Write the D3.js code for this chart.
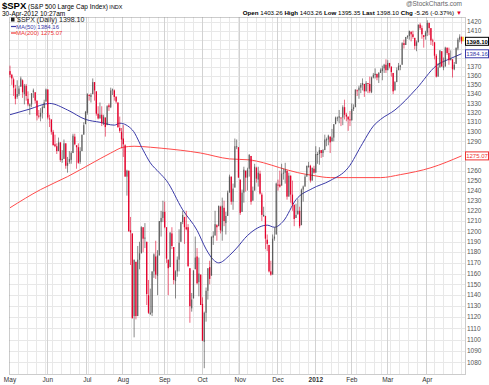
<!DOCTYPE html>
<html>
<head>
<meta charset="utf-8">
<script src="https://cdn.jsdelivr.net/npm/d3@7"></script>
<style>
  body { margin: 0; background: #fff; }
  text { font-family: "Liberation Sans", Arial, sans-serif; }
</style>
</head>
<body>
<div id="chart"></div>
<script>
// $SPX daily, 2-May-2011 .. 30-Apr-2012
const startDay = "2011-05-02", endDay = "2012-04-30";
const holidays = ["2011-05-30", "2011-07-04", "2011-09-05", "2011-11-24", "2011-12-26",
  "2012-01-02", "2012-01-16", "2012-02-20", "2012-04-06"];

const opens = [
  1365,1361,1356,1346,1337,1340,1348,1355,1340,1349,1335,1327,1329,1342,1342,1333,1317,1316,1320,1325,1332,
  1345,1314,1313,1300,1287,1285,1280,1289,1272,1272,1288,1265,1269,1271,1278,1295,1286,1284,1269,1280,1297,1308,
  1320,1339,1337,1340,1353,1343,1319,1314,1318,1309,1315,1307,1328,1326,1344,1344,1337,1331,1304,1300,
  1293,1286,1254,1260,1201,1198,1121,1171,1121,1173,1179,1204,1193,1190,1140,1124,1124,1162,1176,1158,1177,1209,1213,
  1219,1204,1173,1166,1198,1185,1153,1162,1173,1190,1209,1214,1204,1204,1165,1128,1137,1164,1176,1152,1159,
  1132,1098,1124,1144,1166,1158,1194,1196,1206,1205,1224,1200,1223,1208,1215,1238,1254,1229,1243,1284,1284,
  1251,1219,1238,1260,1253,1262,1275,1230,1240,1263,1251,1257,1236,1216,1215,1192,1187,1162,1159,1193,1197,
  1246,1246,1245,1257,1258,1260,1234,1255,1236,1226,1213,1217,1220,1206,1241,1244,1254,1265,1265,1250,1262,
  1258,1277,1277,1281,1278,1281,1292,1292,1295,1290,1294,1308,1314,1316,1315,1315,1326,1318,1316,1313,
  1312,1324,1326,1344,1344,1347,1350,1351,1343,1352,1351,1342,1358,1362,1362,1358,1363,1365,1368,1372,
  1366,1374,1370,1363,1344,1353,1366,1371,1372,1396,1394,1403,1404,1409,1406,1402,1393,1397,1417,1413,1405,1404,
  1408,1419,1413,1399,1397,1382,1359,1369,1387,1370,1370,1391,1385,1377,1378,1367,1373,1390,1400,1403.26
];
const highs = [
  1371,1362,1358,1350,1355,1349,1359,1356,1351,1351,1343,1330,1341,1346,1342,1333,1323,1325,1328,1334,1346,
  1345,1318,1313,1302,1297,1288,1294,1289,1281,1292,1288,1274,1280,1280,1298,1298,1286,1288,1284,1297,1310,1322,
  1341,1340,1341,1357,1353,1343,1327,1331,1327,1318,1315,1328,1330,1347,1346,1345,1338,1331,1316,1304,
  1307,1287,1261,1260,1214,1198,1173,1171,1186,1190,1205,1204,1208,1190,1154,1146,1162,1179,1191,1182,1210,1220,1230,
  1229,1204,1173,1199,1204,1185,1163,1176,1202,1209,1220,1214,1220,1207,1165,1142,1163,1195,1184,1175,1159,
  1138,1125,1147,1165,1172,1195,1200,1220,1207,1225,1225,1233,1230,1219,1240,1256,1254,1247,1293,1292,1284,
  1251,1241,1264,1260,1263,1277,1275,1244,1267,1264,1264,1260,1238,1224,1215,1197,1187,1172,1197,1204,1248,
  1251,1260,1267,1262,1268,1260,1258,1255,1250,1226,1227,1232,1224,1242,1245,1256,1265,1269,1266,1263,1265,
  1285,1279,1284,1281,1282,1297,1294,1297,1295,1303,1308,1316,1316,1323,1315,1328,1334,1320,1316,1322,
  1330,1329,1345,1345,1349,1352,1357,1351,1354,1352,1359,1359,1363,1368,1362,1364,1368,1371,1373,1378,
  1377,1374,1370,1363,1354,1369,1374,1372,1397,1400,1403,1405,1410,1409,1410,1402,1399,1417,1419,1416,1405,1410,
  1422,1419,1413,1401,1397,1384,1374,1388,1387,1380,1392,1391,1391,1388,1378,1375,1391,1402,1406,1403.26
];
const lows = [
  1358,1350,1338,1329,1335,1338,1348,1336,1329,1333,1327,1318,1326,1336,1330,1312,1314,1311,1314,1325,1332,
  1313,1305,1297,1286,1284,1277,1280,1269,1268,1272,1262,1258,1267,1267,1278,1286,1262,1267,1267,1280,1297,1308,
  1318,1333,1331,1340,1333,1317,1313,1314,1306,1307,1295,1307,1322,1325,1339,1333,1330,1304,1299,1283,
  1274,1254,1235,1200,1168,1119,1102,1118,1121,1164,1179,1180,1184,1131,1123,1122,1121,1156,1155,1140,1177,1195,1209,
  1203,1170,1140,1166,1183,1150,1137,1157,1162,1190,1207,1188,1201,1166,1115,1125,1137,1164,1150,1139,1131,
  1099,1075,1116,1136,1150,1158,1187,1196,1191,1205,1198,1191,1205,1197,1215,1238,1226,1221,1243,1282,1253,
  1216,1219,1228,1239,1240,1254,1226,1230,1240,1248,1244,1236,1210,1214,1183,1181,1161,1158,1159,1191,1197,
  1240,1243,1245,1251,1247,1231,1234,1228,1220,1205,1213,1216,1203,1206,1229,1244,1254,1263,1248,1250,1257,
  1258,1267,1266,1273,1274,1281,1285,1286,1278,1290,1290,1308,1311,1309,1306,1307,1313,1311,1301,1306,
  1312,1322,1326,1338,1335,1341,1344,1337,1343,1341,1341,1341,1357,1357,1355,1352,1363,1355,1363,1363,
  1366,1368,1359,1340,1344,1353,1366,1366,1372,1390,1394,1401,1400,1398,1401,1389,1387,1397,1411,1401,1391,1400,
  1404,1405,1394,1393,1378,1358,1359,1369,1370,1366,1370,1383,1372,1377,1358,1366,1373,1388,1397,1395.35
];
const closes = [
  1361,1357,1347,1335,1340,1346,1357,1342,1349,1338,1329,1329,1341,1344,1333,1317,1316,1320,1326,1331,1345,
  1315,1313,1300,1286,1285,1280,1289,1271,1272,1288,1265,1268,1272,1278,1296,1287,1284,1268,1280,1297,1307,1321,
  1340,1338,1339,1353,1344,1319,1314,1318,1309,1316,1305,1327,1326,1344,1345,1337,1332,1305,1301,1292,
  1287,1254,1260,1200,1199,1119,1173,1121,1173,1179,1204,1193,1194,1141,1124,1124,1162,1178,1159,1177,1210,1213,1219,
  1204,1174,1165,1199,1186,1154,1162,1173,1189,1209,1216,1204,1202,1167,1130,1136,1163,1175,1151,1160,1131,
  1099,1124,1144,1165,1155,1195,1196,1207,1204,1225,1201,1225,1210,1215,1238,1254,1229,1242,1285,1285,1253,
  1218,1238,1261,1253,1261,1276,1229,1240,1264,1252,1258,1237,1216,1216,1193,1188,1162,1159,1193,1195,1247,
  1245,1244,1257,1258,1261,1234,1255,1236,1226,1212,1216,1220,1205,1241,1244,1254,1265,1265,1250,1263,1258,
  1277,1277,1281,1278,1281,1292,1292,1296,1289,1294,1308,1315,1315,1316,1315,1326,1318,1316,1313,1312,
  1324,1326,1345,1344,1347,1350,1352,1343,1352,1351,1343,1358,1361,1362,1358,1363,1366,1368,1372,1366,
  1374,1370,1364,1343,1353,1366,1371,1371,1396,1394,1403,1404,1410,1406,1403,1393,1397,1417,1413,1406,1403,1408,
  1419,1413,1399,1398,1382,1359,1369,1388,1370,1370,1391,1385,1377,1379,1367,1372,1391,1400,1403.36,1398.10
];

// moving averages, sampled off the chart (trading-day index, value)
const ma50Days = [0,11,22,32,42,50,58,61,68,74,78,83,87,96,104,109,113,116,122,126,132,134,143,147,152,159,168,178,188,196,202,206,214,226,237,245,251];
const ma50Vals = [1318,1324,1330,1323,1313,1310,1307,1309,1302,1281,1268,1258,1250,1221,1201,1183,1173,1170,1177,1184,1196,1199,1206,1204,1210,1231,1242,1250,1263,1288,1306,1313,1323,1346,1371,1379,1384.16];
const ma200Days = [0,17,32,45,56,63,69,78,84,106,122,133,141,150,160,169,178,188,206,217,234,251];
const ma200Vals = [1223,1241,1254,1267,1278,1284,1285,1284,1283,1278,1272,1271,1268,1263,1258,1255,1253,1253,1253,1256,1263,1275.07];

const yTicks = d3.range(1080, 1421, 10);

// ---- trading days
const parse = d3.utcParse("%Y-%m-%d"), fmt = d3.utcFormat("%Y-%m-%d");
const days = d3.utcDay.range(parse(startDay), d3.utcDay.offset(parse(endDay), 1))
  .filter(d => d.getUTCDay() % 6 !== 0 && !holidays.includes(fmt(d)));
if (days.length !== closes.length || opens.length !== closes.length ||
    highs.length !== closes.length || lows.length !== closes.length)
  throw new Error("length mismatch " + [days.length, opens.length, highs.length, lows.length, closes.length]);

const width = 489, height = 385;
const plot = { left: 9, right: 465, top: 17, bottom: 374 };

const x = d3.scaleLinear().domain([0, days.length - 1]).range([10, 461.5]);
const y = d3.scaleLog().domain([1070, 1425.7]).range([plot.bottom, plot.top]);

const svg = d3.select("#chart").append("svg")
  .attr("width", width)
  .attr("height", height);

// grid
const grid = svg.append("g");
const monthStarts = days.map((d, i) => i).filter(i => i === 0 || days[i].getUTCMonth() !== days[i - 1].getUTCMonth());
const weekStarts = days.map((d, i) => i).filter(i => i > 0 && days[i].getUTCDay() < days[i - 1].getUTCDay());

grid.selectAll("line.h").data(yTicks).enter().append("line")
  .attr("x1", plot.left).attr("x2", plot.right)
  .attr("y1", d => Math.round(y(d)) + 0.5).attr("y2", d => Math.round(y(d)) + 0.5)
  .attr("stroke", "#e8e8e8").attr("stroke-width", 1);
grid.selectAll("line.w").data(weekStarts).enter().append("line")
  .attr("x1", d => Math.round(x(d) - 0.9) + 0.5).attr("x2", d => Math.round(x(d) - 0.9) + 0.5)
  .attr("y1", plot.top).attr("y2", plot.bottom)
  .attr("stroke", "#e8e8e8").attr("stroke-width", 1);
grid.selectAll("line.m").data(monthStarts.slice(1)).enter().append("line")
  .attr("x1", d => Math.round(x(d) - 0.9) + 0.5).attr("x2", d => Math.round(x(d) - 0.9) + 0.5)
  .attr("y1", plot.top).attr("y2", plot.bottom)
  .attr("stroke", "#d2d2d2").attr("stroke-width", 1);

// plot frame (dotted)
svg.append("rect")
  .attr("x", plot.left + 0.5).attr("y", plot.top + 0.5)
  .attr("width", plot.right - plot.left).attr("height", plot.bottom - plot.top)
  .attr("fill", "none").attr("stroke", "#999").attr("stroke-dasharray", "1,1");

// moving averages
const line = d3.line().x(d => x(d[0])).y(d => y(d[1])).curve(d3.curveMonotoneX);
svg.append("path")
  .attr("d", line(ma200Days.map((d, i) => [d, ma200Vals[i]])))
  .attr("fill", "none").attr("stroke", "#ff4a4a").attr("stroke-width", 1);
svg.append("path")
  .attr("d", line(ma50Days.map((d, i) => [d, ma50Vals[i]])))
  .attr("fill", "none").attr("stroke", "#3a3aa8").attr("stroke-width", 1);

// candles
const candles = svg.append("g").selectAll("g").data(closes).enter().append("g");
const col = (c, i) => (c >= (i ? closes[i - 1] : opens[i])) ? "#3c3c3c" : "#e3002b";
candles.append("line")
  .attr("x1", (c, i) => x(i)).attr("x2", (c, i) => x(i))
  .attr("y1", (c, i) => y(highs[i])).attr("y2", (c, i) => y(lows[i]))
  .attr("stroke", col).attr("stroke-width", 0.8).attr("opacity", 0.75);
candles.append("rect")
  .attr("x", (c, i) => x(i) - 0.65).attr("width", 1.3)
  .attr("y", (c, i) => y(Math.max(opens[i], c)))
  .attr("height", (c, i) => Math.max(0.8, Math.abs(y(opens[i]) - y(c))))
  .attr("fill", col)
  .attr("fill-opacity", (c, i) => c > opens[i] ? 0.6 : 1);

// value tags
const tags = [
  { v: closes[closes.length - 1], c: "#000", w: "bold" },
  { v: ma50Vals[ma50Vals.length - 1], c: "#3a3aa8", w: "normal" },
  { v: ma200Vals[ma200Vals.length - 1], c: "#e33", w: "normal" }
];

// right axis labels (those under a value tag are hidden, as in the original)
svg.append("g").selectAll("text")
  .data(yTicks.filter(t => tags.every(g => Math.abs(y(t) - y(g.v)) > 5.5)))
  .enter().append("text")
  .attr("x", 467).attr("y", d => y(d) + 2.2)
  .attr("font-size", 6.5).attr("fill", "#555")
  .text(d => d);

const tagG = svg.append("g").selectAll("g").data(tags).enter().append("g")
  .attr("transform", d => `translate(465,${y(d.v)})`);
tagG.append("rect").attr("x", 0.5).attr("y", -4).attr("width", 23).attr("height", 8)
  .attr("fill", "#fff").attr("stroke", d => d.c).attr("stroke-width", 1);
tagG.append("text").attr("x", 12).attr("y", 2.2).attr("text-anchor", "middle")
  .attr("font-size", 6).attr("font-weight", d => d.w).attr("fill", d => d.c)
  .text(d => d.v.toFixed(2));
svg.append("rect").attr("x", x(closes.length - 1) + 0.8).attr("y", y(1403.26))
  .attr("width", 1.4).attr("height", y(1398.1) - y(1403.26)).attr("fill", "#f5c400");

// month labels
svg.append("g").selectAll("text").data(monthStarts).enter().append("text")
  .attr("x", d => x(d)).attr("y", 382)
  .attr("text-anchor", "middle").attr("font-size", 6.5)
  .attr("font-weight", d => days[d].getUTCMonth() === 0 ? "bold" : "normal")
  .attr("fill", "#333")
  .text(d => days[d].getUTCMonth() === 0 ? d3.utcFormat("%Y")(days[d]) : d3.utcFormat("%b")(days[d]));

// header
const head = svg.append("text").attr("x", 2).attr("y", 9);
head.append("tspan").attr("font-size", 9.5).attr("font-weight", "bold").text("$SPX");
head.append("tspan").attr("font-size", 6.5).text(" (S&P 500 Large Cap Index)");
head.append("tspan").attr("font-size", 5.5).text(" INDX");
svg.append("text").attr("x", 2).attr("y", 16).attr("font-size", 6.5).text("30-Apr-2012 10:27am");
svg.append("text").attr("x", 462).attr("y", 6).attr("text-anchor", "end")
  .attr("font-size", 6.5).attr("fill", "#666").text("@StockCharts.com");

const quote = [["Open", "1403.26"], ["High", "1403.26"], ["Low", "1395.35"], ["Last", "1398.10"], ["Chg", "-5.26 (-0.37%)"]];
const q = svg.append("text").attr("x", 454).attr("y", 15).attr("text-anchor", "end").attr("font-size", 6.2);
quote.forEach(([k, v], i) => {
  q.append("tspan").attr("font-weight", "bold").text((i ? "  " : "") + k + " ");
  q.append("tspan").text(v);
});
svg.append("text").attr("x", 456).attr("y", 15).attr("font-size", 6).attr("fill", "#e3002b").text("▼");

// legend
const leg = svg.append("g").attr("transform", "translate(11,21)");
leg.append("rect").attr("x", 0).attr("y", -3.5).attr("width", 3.5).attr("height", 4).attr("fill", "#222");
leg.append("text").attr("x", 6).attr("y", 0.5).attr("font-size", 7)
  .attr("font-family", "DejaVu Sans Mono, monospace").attr("fill", "#222").text("$SPX (Daily) 1398.10");
const legMa = [["MA(50) 1384.16", "#3a3aa8"], ["MA(200) 1275.07", "#e33"]];
legMa.forEach(([t, c], i) => {
  leg.append("line").attr("x1", 0).attr("x2", 5).attr("y1", 5.5 + i * 6.5).attr("y2", 5.5 + i * 6.5)
    .attr("stroke", c).attr("stroke-width", 1.2);
  leg.append("text").attr("x", 5).attr("y", 7.5 + i * 6.5).attr("font-size", 6).attr("fill", c).text(t);
});
</script>
</body>
</html>
